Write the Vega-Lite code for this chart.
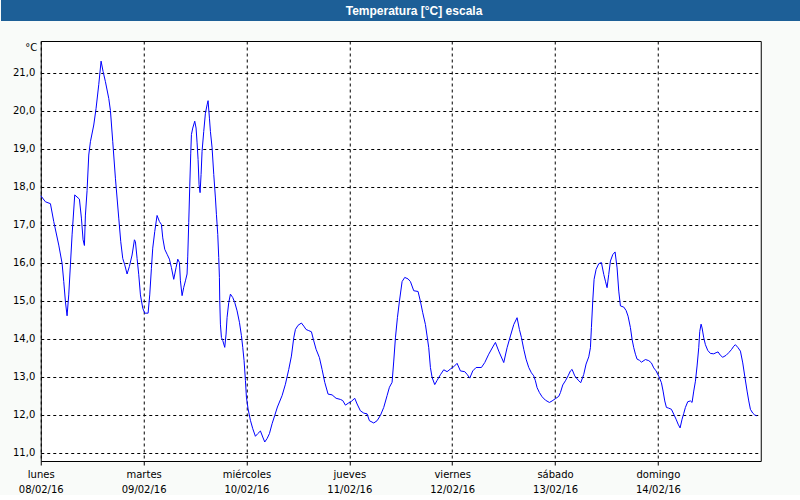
{
  "$schema": "https://vega.github.io/schema/vega-lite/v6.json",
  "padding": 0,
  "background": "#f9fbf9",
  "center": true,
  "spacing": 19,
  "config": {"font": "DejaVu Sans"},
  "vconcat": [
    {
      "width": 800,
      "height": 21,
      "view": {"fill": "#1d5f97", "stroke": null},
      "data": {"values": [{"titulo": "Temperatura [°C] escala"}]},
      "mark": {"type": "text", "color": "#ffffff", "font": "Liberation Sans", "fontWeight": "bold", "fontSize": 12, "dx": 13, "align": "center", "baseline": "middle"},
      "encoding": {"text": {"field": "titulo", "type": "nominal"}}
    },
    {
      "width": 720,
      "height": 420,
      "view": {"fill": "#ffffff", "stroke": "#000000", "strokeWidth": 1},
      "data": {"values": [
        {"hora":0,"temp":17.76},{"hora":1.09,"temp":17.6},{"hora":2.26,"temp":17.55},{"hora":3.03,"temp":17.08},{"hora":4.2,"temp":16.46},{"hora":4.98,"temp":15.98},{"hora":5.37,"temp":15.5},{"hora":5.76,"temp":14.97},{"hora":6.14,"temp":14.6},{"hora":6.53,"temp":15.15},{"hora":6.92,"temp":15.94},{"hora":7.31,"temp":16.73},{"hora":7.93,"temp":17.78},{"hora":9.02,"temp":17.67},{"hora":9.49,"temp":17.17},{"hora":9.88,"temp":16.6},{"hora":10.19,"temp":16.45},{"hora":10.42,"temp":17.25},{"hora":10.81,"temp":17.9},{"hora":11.2,"temp":18.83},{"hora":11.59,"temp":19.18},{"hora":12.37,"temp":19.62},{"hora":12.91,"temp":20.06},{"hora":13.53,"temp":20.68},{"hora":14.08,"temp":21.3},{"hora":14.54,"temp":21.03},{"hora":15.09,"temp":20.76},{"hora":15.87,"temp":20.32},{"hora":16.26,"temp":20.0},{"hora":16.8,"temp":19.18},{"hora":17.42,"temp":18.22},{"hora":18.2,"temp":17.17},{"hora":18.67,"temp":16.55},{"hora":19.13,"temp":16.11},{"hora":19.6,"temp":15.94},{"hora":20.14,"temp":15.7},{"hora":20.69,"temp":15.9},{"hora":21.31,"temp":16.2},{"hora":21.86,"temp":16.6},{"hora":22.09,"temp":16.55},{"hora":22.48,"temp":16.11},{"hora":22.87,"temp":15.68},{"hora":23.26,"temp":15.15},{"hora":23.8,"temp":14.8},{"hora":24.27,"temp":14.67},{"hora":25.05,"temp":14.67},{"hora":25.43,"temp":15.15},{"hora":25.82,"temp":15.85},{"hora":26.13,"temp":16.38},{"hora":26.6,"temp":16.82},{"hora":27.14,"temp":17.24},{"hora":27.69,"temp":17.08},
        {"hora":28.16,"temp":17.0},{"hora":28.47,"temp":16.65},{"hora":28.93,"temp":16.35},{"hora":29.48,"temp":16.22},{"hora":30.02,"temp":16.09},{"hora":30.49,"temp":15.87},{"hora":31.03,"temp":15.56},{"hora":31.58,"temp":15.87},{"hora":31.97,"temp":16.09},{"hora":32.36,"temp":16.0},{"hora":32.59,"temp":15.52},{"hora":32.98,"temp":15.13},{"hora":33.37,"temp":15.35},{"hora":33.76,"temp":15.52},{"hora":34.14,"temp":15.7},{"hora":34.3,"temp":16.17},{"hora":34.53,"temp":17.05},{"hora":34.77,"temp":18.01},{"hora":35.0,"temp":18.88},{"hora":35.16,"temp":19.37},{"hora":35.47,"temp":19.54},{"hora":35.93,"temp":19.72},{"hora":36.24,"temp":19.54},{"hora":36.48,"temp":19.15},{"hora":36.71,"temp":18.71},{"hora":36.94,"temp":18.05},{"hora":37.18,"temp":17.84},{"hora":37.41,"temp":18.32},{"hora":37.64,"temp":18.93},{"hora":38.03,"temp":19.45},{"hora":38.42,"temp":19.93},{"hora":38.81,"temp":20.15},{"hora":39.04,"temp":20.26},{"hora":39.36,"temp":19.8},{"hora":39.59,"temp":19.45},{"hora":39.98,"temp":19.02},{"hora":40.37,"temp":18.32},{"hora":40.76,"temp":17.7},{"hora":40.99,"temp":17.27},{"hora":41.3,"temp":16.74},{"hora":41.53,"temp":16.13},{"hora":41.69,"temp":15.61},{"hora":41.77,"temp":15.0},{"hora":41.92,"temp":14.38},{"hora":42.16,"temp":14.03},{"hora":42.47,"temp":13.95},{"hora":42.93,"temp":13.77},{"hora":43.24,"temp":14.12},{"hora":43.48,"temp":14.56},{"hora":43.87,"temp":14.95},{"hora":44.26,"temp":15.17},{"hora":44.8,"temp":15.08},{"hora":45.27,"temp":14.95},{"hora":45.81,"temp":14.73},{"hora":46.36,"temp":14.43},{"hora":46.82,"temp":14.08},{"hora":47.13,"temp":13.77},{"hora":47.44,"temp":13.42},{"hora":47.76,"temp":12.9},{"hora":47.99,"temp":12.46},{"hora":48.38,"temp":12.15},{"hora":48.92,"temp":11.85},{"hora":49.47,"temp":11.63},{"hora":50.09,"temp":11.43},{"hora":50.63,"temp":11.5},{"hora":51.26,"temp":11.57},{"hora":51.8,"temp":11.41},{"hora":52.27,"temp":11.28},{"hora":52.81,"temp":11.37},{"hora":53.36,"temp":11.5},{"hora":53.98,"temp":11.76},{"hora":54.6,"temp":11.98},{"hora":55.22,"temp":12.2},
        {"hora":56.31,"temp":12.5},{"hora":57.09,"temp":12.8},{"hora":57.87,"temp":13.19},{"hora":58.49,"temp":13.54},{"hora":59.03,"temp":14.02},{"hora":59.42,"temp":14.24},{"hora":60.04,"temp":14.35},{"hora":60.82,"temp":14.41},{"hora":61.37,"temp":14.33},{"hora":61.91,"temp":14.24},{"hora":62.53,"temp":14.21},{"hora":63.16,"temp":14.18},{"hora":63.7,"temp":13.94},{"hora":64.24,"temp":13.72},{"hora":65.02,"temp":13.5},{"hora":65.64,"temp":13.19},{"hora":66.27,"temp":12.85},{"hora":67.04,"temp":12.54},{"hora":67.98,"temp":12.52},{"hora":68.91,"temp":12.43},{"hora":69.92,"temp":12.4},{"hora":70.47,"temp":12.37},{"hora":71.09,"temp":12.25},{"hora":71.87,"temp":12.31},{"hora":72.49,"temp":12.35},{"hora":73.27,"temp":12.43},{"hora":73.81,"temp":12.28},{"hora":74.59,"temp":12.1},{"hora":75.37,"temp":12.04},{"hora":76.14,"temp":12.02},{"hora":76.69,"temp":11.84},{"hora":77.7,"temp":11.78},{"hora":78.48,"temp":11.84},{"hora":79.26,"temp":11.98},{"hora":80.03,"temp":12.19},{"hora":80.81,"temp":12.5},{"hora":81.36,"temp":12.72},{"hora":81.98,"temp":12.85},{"hora":82.37,"temp":13.41},{"hora":82.76,"temp":14.02},{"hora":83.22,"temp":14.55},{"hora":83.69,"temp":14.98},
        {"hora":84.31,"temp":15.5},{"hora":84.93,"temp":15.61},{"hora":85.71,"temp":15.57},{"hora":86.26,"temp":15.5},{"hora":87.03,"temp":15.26},{"hora":88.04,"temp":15.24},{"hora":88.59,"temp":14.98},{"hora":89.13,"temp":14.68},{"hora":89.76,"temp":14.37},{"hora":90.14,"temp":14.07},{"hora":90.53,"temp":13.76},{"hora":90.92,"temp":13.24},{"hora":91.31,"temp":12.98},{"hora":91.93,"temp":12.79},{"hora":92.48,"temp":12.9},{"hora":93.26,"temp":13.05},{"hora":94.03,"temp":13.18},{"hora":94.81,"temp":13.13},{"hora":95.59,"temp":13.2},{"hora":96.37,"temp":13.26},{"hora":97.14,"temp":13.35},{"hora":97.92,"temp":13.15},{"hora":98.93,"temp":13.13},{"hora":99.48,"temp":13.06},{"hora":100.1,"temp":12.96},{"hora":100.8,"temp":13.15},{"hora":101.58,"temp":13.24},{"hora":102.82,"temp":13.24},{"hora":103.6,"temp":13.37},{"hora":104.53,"temp":13.59},{"hora":105.47,"temp":13.78},{"hora":106.09,"temp":13.9},{"hora":106.87,"temp":13.67},{"hora":108.03,"temp":13.37},{"hora":108.81,"temp":13.76},{"hora":109.59,"temp":14.07},{"hora":110.37,"temp":14.37},{"hora":111.14,"temp":14.55},{"hora":111.69,"temp":14.24},
        {"hora":112.16,"temp":14.03},{"hora":112.7,"temp":13.72},{"hora":113.24,"temp":13.46},{"hora":113.87,"temp":13.24},{"hora":114.49,"temp":13.1},{"hora":115.03,"temp":13.02},{"hora":115.42,"temp":12.89},{"hora":115.81,"temp":12.71},{"hora":116.36,"temp":12.58},{"hora":116.98,"temp":12.47},{"hora":117.76,"temp":12.38},{"hora":118.69,"temp":12.32},{"hora":119.31,"temp":12.36},{"hora":120.09,"temp":12.42},{"hora":120.87,"temp":12.48},{"hora":121.26,"temp":12.58},{"hora":121.8,"temp":12.78},{"hora":122.42,"temp":12.89},{"hora":123.04,"temp":13.02},{"hora":123.59,"temp":13.15},{"hora":123.98,"temp":13.19},{"hora":124.6,"temp":13.02},{"hora":125.38,"temp":12.91},{"hora":126.0,"temp":12.84},{"hora":126.7,"temp":13.06},{"hora":127.24,"temp":13.33},{"hora":127.87,"temp":13.52},{"hora":128.26,"temp":13.76},{"hora":128.49,"temp":14.29},{"hora":128.8,"temp":14.99},{"hora":129.11,"temp":15.56},{"hora":129.58,"temp":15.82},{"hora":130.2,"temp":15.97},{"hora":130.82,"temp":16.0},{"hora":131.37,"temp":15.69},{"hora":131.76,"temp":15.51},{"hora":132.14,"temp":15.34},{"hora":132.53,"temp":15.69},{"hora":132.92,"temp":16.04},{"hora":133.47,"temp":16.21},{"hora":134.01,"temp":16.28},{"hora":134.48,"temp":15.86},{"hora":134.87,"temp":15.25},{"hora":135.26,"temp":14.86},{"hora":136.03,"temp":14.83},{"hora":136.58,"temp":14.74},{"hora":137.04,"temp":14.59},{"hora":137.59,"temp":14.29},{"hora":137.98,"temp":13.98},{"hora":138.37,"temp":13.76},{"hora":138.76,"temp":13.59},{"hora":139.14,"temp":13.46},{"hora":139.69,"temp":13.43},
        {"hora":140.16,"temp":13.38},{"hora":141.09,"temp":13.45},{"hora":141.87,"temp":13.42},{"hora":142.49,"temp":13.36},{"hora":143.03,"temp":13.23},{"hora":143.58,"temp":13.15},{"hora":144.2,"temp":13.01},{"hora":144.82,"temp":12.84},{"hora":145.21,"temp":12.62},{"hora":145.6,"temp":12.36},{"hora":145.99,"temp":12.19},{"hora":146.53,"temp":12.17},{"hora":147.16,"temp":12.14},{"hora":147.7,"temp":12.01},{"hora":148.24,"temp":11.88},{"hora":148.71,"temp":11.75},{"hora":149.18,"temp":11.65},{"hora":149.64,"temp":11.88},{"hora":150.03,"temp":12.03},{"hora":150.42,"temp":12.19},{"hora":150.97,"temp":12.34},{"hora":151.59,"temp":12.36},{"hora":151.98,"temp":12.32},{"hora":152.37,"temp":12.62},{"hora":152.76,"temp":12.88},{"hora":153.14,"temp":13.28},{"hora":153.53,"temp":13.76},{"hora":153.77,"temp":14.19},{"hora":154.08,"temp":14.38},{"hora":154.31,"temp":14.28},{"hora":154.7,"temp":14.02},{"hora":155.09,"temp":13.84},{"hora":155.63,"temp":13.69},{"hora":156.26,"temp":13.61},{"hora":157.03,"temp":13.6},{"hora":157.58,"temp":13.63},{"hora":158.04,"temp":13.65},{"hora":158.59,"temp":13.56},{"hora":159.13,"temp":13.51},{"hora":159.91,"temp":13.56},{"hora":160.53,"temp":13.63},{"hora":161.16,"temp":13.71},{"hora":161.7,"temp":13.8},{"hora":162.09,"temp":13.84},{"hora":162.71,"temp":13.76},{"hora":163.26,"temp":13.67},{"hora":163.8,"temp":13.36},{"hora":164.27,"temp":13.01},{"hora":164.81,"temp":12.62},{"hora":165.2,"temp":12.36},{"hora":165.59,"temp":12.14},{"hora":166.13,"temp":12.04},{"hora":166.6,"temp":11.99},{"hora":167.07,"temp":11.97}
      ]},
      "mark": {"type": "line", "color": "#0000ff", "strokeWidth": 1, "interpolate": "linear"},
      "encoding": {
        "x": {
          "field": "hora",
          "type": "quantitative",
          "scale": {"domain": [0, 168], "nice": false, "zero": false},
          "axis": {
            "values": [0, 24, 48, 72, 96, 120, 144],
            "title": null,
            "grid": true,
            "gridColor": "#000000",
            "gridDash": [3, 3],
            "gridOpacity": 1,
            "gridWidth": 1,
            "domain": false,
            "ticks": true,
            "tickSize": 4,
            "tickColor": "#000000",
            "labelExpr": "[['lunes','martes','miércoles','jueves','viernes','sábado','domingo'][round(datum.value/24)], ['08/02/16','09/02/16','10/02/16','11/02/16','12/02/16','13/02/16','14/02/16'][round(datum.value/24)]]",
            "labelLineHeight": 15,
            "labelPadding": 4,
            "labelFont": "DejaVu Sans",
            "labelFontSize": 10,
            "labelColor": "#000000",
            "labelAlign": "center",
            "labelBaseline": "top",
            "labelOverlap": false,
            "labelFlush": false,
            "labelBound": false
          }
        },
        "y": {
          "field": "temp",
          "type": "quantitative",
          "scale": {"domain": [10.78, 21.83], "nice": false, "zero": false},
          "axis": {
            "values": [11, 12, 13, 14, 15, 16, 17, 18, 19, 20, 21],
            "title": "°C",
            "titleAngle": 0,
            "titleX": -4,
            "titleY": 6,
            "titleAlign": "right",
            "titleBaseline": "middle",
            "titleFont": "DejaVu Sans",
            "titleFontSize": 10,
            "titleFontWeight": "normal",
            "titleColor": "#000000",
            "grid": true,
            "gridColor": "#000000",
            "gridDash": [3, 3],
            "gridOpacity": 1,
            "gridWidth": 1,
            "domain": false,
            "ticks": false,
            "tickSize": 0,
            "labelPadding": 6,
            "labelExpr": "replace(format(datum.value, '.1f'), '.', ',')",
            "labelFont": "DejaVu Sans",
            "labelFontSize": 10,
            "labelColor": "#000000",
            "minExtent": 40,
            "maxExtent": 40
          }
        }
      }
    }
  ]
}
